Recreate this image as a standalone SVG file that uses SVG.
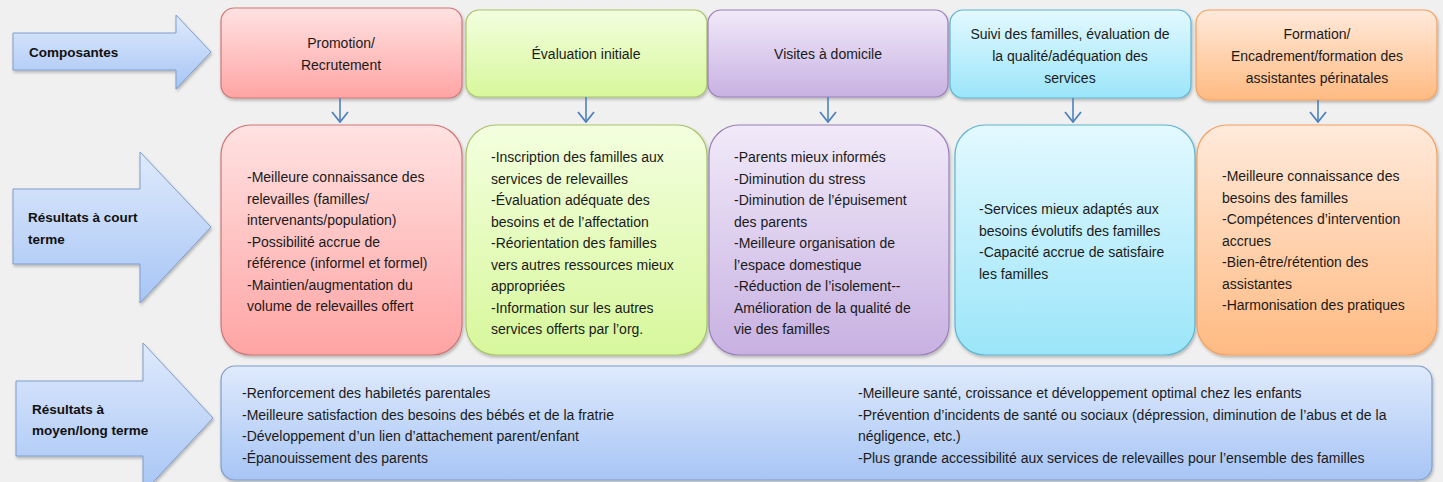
<svg xmlns="http://www.w3.org/2000/svg" width="1443" height="482" viewBox="0 0 1443 482">
<defs>
<linearGradient id="gBlue" x1="0" y1="0" x2="0" y2="1"><stop offset="0" stop-color="#dfeafc"/><stop offset="1" stop-color="#a7c5f5"/></linearGradient>
<linearGradient id="gRed" x1="0" y1="0" x2="0" y2="1"><stop offset="0" stop-color="#ffe2e2"/><stop offset="1" stop-color="#ffa4a4"/></linearGradient>
<linearGradient id="gGreen" x1="0" y1="0" x2="0" y2="1"><stop offset="0" stop-color="#f3ffdf"/><stop offset="1" stop-color="#d7f79b"/></linearGradient>
<linearGradient id="gPurple" x1="0" y1="0" x2="0" y2="1"><stop offset="0" stop-color="#f1eaf9"/><stop offset="1" stop-color="#c8b1e2"/></linearGradient>
<linearGradient id="gCyan" x1="0" y1="0" x2="0" y2="1"><stop offset="0" stop-color="#e3f9ff"/><stop offset="1" stop-color="#9be5f9"/></linearGradient>
<linearGradient id="gOrange" x1="0" y1="0" x2="0" y2="1"><stop offset="0" stop-color="#ffeadb"/><stop offset="1" stop-color="#ffba82"/></linearGradient>
<filter id="sh" x="-5%" y="-5%" width="110%" height="115%"><feDropShadow dx="1" dy="2" stdDeviation="1.5" flood-color="#000" flood-opacity="0.25"/></filter>
<marker id="ah" markerWidth="12" markerHeight="18" refX="11" refY="9" orient="auto" markerUnits="userSpaceOnUse" viewBox="0 0 12 18">
<polyline points="1,1 11,9 1,17" fill="none" stroke="#4f81bd" stroke-width="1.8"/>
</marker>
</defs>
<style>
.bg{fill:#f0f0f0}
.arrow{fill:url(#gBlue);stroke:#7f9dcc;stroke-width:1;filter:url(#sh)}
.lbl{font-family:"Liberation Sans",Arial,sans-serif;font-weight:bold;font-size:13.5px;fill:#111}
.t{font-family:"Liberation Sans",Arial,sans-serif;font-size:14px;fill:#1a1a1a}
.c{text-anchor:middle}
.red{fill:url(#gRed);stroke:#d07676}
.green{fill:url(#gGreen);stroke:#a7c36a}
.purple{fill:url(#gPurple);stroke:#9a80b8}
.cyan{fill:url(#gCyan);stroke:#5db5cf}
.orange{fill:url(#gOrange);stroke:#f5a05e}
.blue{fill:url(#gBlue);stroke:#7f9dcc}
.box{stroke-width:1.2;filter:url(#sh)}
.conn{stroke:#4f81bd;stroke-width:1.6;fill:none}
</style>
<rect class="bg" x="0" y="0" width="1443" height="482"/>

<g id="arrow-composantes">
<polygon class="arrow" points="13,33 176,33 176,15 211,52 176,89 176,70 13,70"/>
<text class="lbl" x="29" y="57">Composantes</text>
</g>
<g id="arrow-court-terme">
<polygon class="arrow" points="13,189 140,189 140,152 211,227 140,303 140,264 13,264"/>
<text class="lbl" x="28" y="222">Résultats à court</text>
<text class="lbl" x="28" y="244">terme</text>
</g>
<g id="arrow-moyen-terme">
<polygon class="arrow" points="16,381 143,381 143,343 213,418 143,493 143,456 16,456"/>
<text class="lbl" x="32" y="414">Résultats à</text>
<text class="lbl" x="32" y="435">moyen/long terme</text>
</g>

<g id="comp-promotion">
<rect class="box red" x="221" y="8" width="241" height="90" rx="13"/>
<text class="t c" x="341" y="48">Promotion/</text>
<text class="t c" x="341" y="70">Recrutement</text>
</g>
<g id="comp-evaluation">
<rect class="box green" x="466" y="10" width="241" height="87" rx="13"/>
<text class="t c" x="586" y="59">Évaluation initiale</text>
</g>
<g id="comp-visites">
<rect class="box purple" x="708" y="10" width="240" height="87" rx="13"/>
<text class="t c" x="828" y="59">Visites à domicile</text>
</g>
<g id="comp-suivi">
<rect class="box cyan" x="950" y="10" width="241" height="88" rx="13"/>
<text class="t c" x="1070" y="39">Suivi des familles, évaluation de</text>
<text class="t c" x="1070" y="61">la qualité/adéquation des</text>
<text class="t c" x="1070" y="83">services</text>
</g>
<g id="comp-formation">
<rect class="box orange" x="1196" y="10" width="241" height="90" rx="13"/>
<text class="t c" x="1317" y="39">Formation/</text>
<text class="t c" x="1317" y="61">Encadrement/formation des</text>
<text class="t c" x="1317" y="83">assistantes périnatales</text>
</g>

<g id="res-promotion">
<rect class="box red" x="221" y="125" width="241" height="230" rx="30"/>
<text class="t" x="247" y="182">-Meilleure connaissance des</text>
<text class="t" x="247" y="203.5">relevailles (familles/</text>
<text class="t" x="247" y="225">intervenants/population)</text>
<text class="t" x="247" y="246.5">-Possibilité accrue de</text>
<text class="t" x="247" y="268">référence (informel et formel)</text>
<text class="t" x="247" y="289.5">-Maintien/augmentation du</text>
<text class="t" x="247" y="311">volume de relevailles offert</text>
</g>
<g id="res-evaluation">
<rect class="box green" x="466" y="125" width="241" height="230" rx="30"/>
<text class="t" x="491" y="162">-Inscription des familles aux</text>
<text class="t" x="491" y="183.5">services de relevailles</text>
<text class="t" x="491" y="205">-Évaluation adéquate des</text>
<text class="t" x="491" y="226.5">besoins et de l’affectation</text>
<text class="t" x="491" y="248">-Réorientation des familles</text>
<text class="t" x="491" y="269.5">vers autres ressources mieux</text>
<text class="t" x="491" y="291">appropriées</text>
<text class="t" x="491" y="312.5">-Information sur les autres</text>
<text class="t" x="491" y="334">services offerts par l’org.</text>
</g>
<g id="res-visites">
<rect class="box purple" x="709" y="125" width="240" height="230" rx="30"/>
<text class="t" x="734" y="162">-Parents mieux informés</text>
<text class="t" x="734" y="183.5">-Diminution du stress</text>
<text class="t" x="734" y="205">-Diminution de l’épuisement</text>
<text class="t" x="734" y="226.5">des parents</text>
<text class="t" x="734" y="248">-Meilleure organisation de</text>
<text class="t" x="734" y="269.5">l’espace domestique</text>
<text class="t" x="734" y="291">-Réduction de l’isolement--</text>
<text class="t" x="734" y="312.5">Amélioration de la qualité de</text>
<text class="t" x="734" y="334">vie des familles</text>
</g>
<g id="res-suivi">
<rect class="box cyan" x="955" y="125" width="240" height="230" rx="30"/>
<text class="t" x="979" y="214">-Services mieux adaptés aux</text>
<text class="t" x="979" y="235.5">besoins évolutifs des familles</text>
<text class="t" x="979" y="257">-Capacité accrue de satisfaire</text>
<text class="t" x="979" y="278.5">les familles</text>
</g>
<g id="res-formation">
<rect class="box orange" x="1197" y="125" width="240" height="230" rx="30"/>
<text class="t" x="1222" y="181">-Meilleure connaissance des</text>
<text class="t" x="1222" y="202.5">besoins des familles</text>
<text class="t" x="1222" y="224">-Compétences d’intervention</text>
<text class="t" x="1222" y="245.5">accrues</text>
<text class="t" x="1222" y="267">-Bien-être/rétention des</text>
<text class="t" x="1222" y="288.5">assistantes</text>
<text class="t" x="1222" y="310">-Harmonisation des pratiques</text>
</g>

<g id="res-moyen-long">
<rect class="box blue" x="221" y="366" width="1211" height="114" rx="14"/>
<text class="t" x="242" y="398">-Renforcement des habiletés parentales</text>
<text class="t" x="242" y="419.5">-Meilleure satisfaction des besoins des bébés et de la fratrie</text>
<text class="t" x="242" y="441">-Développement d’un lien d’attachement parent/enfant</text>
<text class="t" x="242" y="462.5">-Épanouissement des parents</text>
<text class="t" x="858" y="398">-Meilleure santé, croissance et développement optimal chez les enfants</text>
<text class="t" x="858" y="419.5">-Prévention d’incidents de santé ou sociaux (dépression, diminution de l’abus et de la</text>
<text class="t" x="858" y="441">négligence, etc.)</text>
<text class="t" x="858" y="462.5">-Plus grande accessibilité aux services de relevailles pour l’ensemble des familles</text>
</g>

<g id="connectors">
<line class="conn" x1="340" y1="98" x2="340" y2="122" marker-end="url(#ah)"/>
<line class="conn" x1="586" y1="97" x2="586" y2="122" marker-end="url(#ah)"/>
<line class="conn" x1="828" y1="97" x2="828" y2="122" marker-end="url(#ah)"/>
<line class="conn" x1="1073" y1="98" x2="1073" y2="122" marker-end="url(#ah)"/>
<line class="conn" x1="1318" y1="100" x2="1318" y2="122" marker-end="url(#ah)"/>
</g>
</svg>
